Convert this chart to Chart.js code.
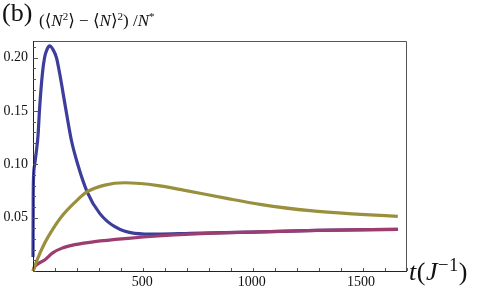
<!DOCTYPE html>
<html>
<head>
<meta charset="utf-8">
<script src="https://cdn.jsdelivr.net/npm/chart.js@4/dist/chart.umd.min.js"></script>
<style>
  html, body { margin: 0; padding: 0; background: #fff; }
  #wrap { position: relative; width: 485px; height: 296px; font-family: "Liberation Serif", "DejaVu Serif", serif; color: #111; }
  #wrap canvas { position: absolute; left: 0; top: 0; }
  .lbl { position: absolute; white-space: nowrap; line-height: 1; }
  .lbl i { font-style: italic; }
  .lbl sup { font-size: 0.65em; vertical-align: 0.5em; line-height: 0; }
  #panel { left: 2px; top: 0px; font-size: 26px; }
  #ytitle { left: 39px; top: 12px; font-size: 17px; }
  #xtitle { left: 409px; top: 259px; font-size: 26px; letter-spacing: 0.5px; }
  #xtitle sup { font-size: 0.72em; }
</style>
</head>
<body>
<div id="wrap">
  <canvas id="chart" width="485" height="296"></canvas>
  <div class="lbl" id="panel">(b)</div>
  <div class="lbl" id="ytitle">(⟨<i>N</i><sup>2</sup>⟩ − ⟨<i>N</i>⟩<sup>2</sup>) /<i>N</i><sup>*</sup></div>
  <div class="lbl" id="xtitle"><i>t</i>(<i>J</i><sup>−1</sup>)</div>
</div>
<script>
// ------------------ DATA ------------------
const blueT = [0, 1, 3, 8, 16, 23, 30, 43, 53, 65, 76, 90, 107, 122, 148, 175, 203, 248, 305, 374, 465, 572, 718, 1000, 1300, 1668];
const blueV = [0.013, 0.07, 0.09, 0.1, 0.113, 0.127, 0.152, 0.185, 0.2, 0.208, 0.211, 0.208, 0.2, 0.185, 0.154, 0.123, 0.101, 0.074, 0.054, 0.0415, 0.0353, 0.0345, 0.0353, 0.0365, 0.038, 0.039];

const oliveT = [0, 20, 53, 90, 130, 190, 248, 328, 419, 490, 572, 688, 886, 1038, 1267, 1496, 1668];
const oliveV = [0, 0.011, 0.026, 0.039, 0.0508, 0.064, 0.0743, 0.0805, 0.0827, 0.082, 0.08, 0.0758, 0.068, 0.0625, 0.0565, 0.0531, 0.0512];

const magentaT = [0, 5, 15, 53, 90, 130, 200, 282, 435, 572, 718, 1000, 1300, 1668];
const magentaV = [0, 0.003, 0.0056, 0.0103, 0.017, 0.0212, 0.025, 0.0275, 0.0306, 0.0328, 0.0345, 0.0365, 0.038, 0.039];

const xTickLabels = [500, 1000, 1500];
const yTickLabels = [0.05, 0.10, 0.15, 0.20];
const X_MAX = 1710;
const Y_MAX = 0.2155;

const toPoints = (ts, vs) => ts.map((t, i) => ({ x: t, y: vs[i] }));

// ------------------ FRAME, INWARD TICKS, X LABELS ------------------
const framePlugin = {
    id: 'frame',
    afterDraw(chart) {
        const { ctx, chartArea: a, scales } = chart;
        ctx.save();
        ctx.lineWidth = 1;
        ctx.strokeStyle = '#555';
        ctx.beginPath();
        ctx.moveTo(a.left, a.top + 0.5);
        ctx.lineTo(a.right - 0.5, a.top + 0.5);
        ctx.lineTo(a.right - 0.5, a.bottom);
        ctx.stroke();
        ctx.strokeStyle = '#222';
        ctx.beginPath();
        ctx.moveTo(a.left + 0.5, a.top);
        ctx.lineTo(a.left + 0.5, a.bottom + 0.5);
        ctx.lineTo(a.right, a.bottom + 0.5);
        ctx.stroke();

        ctx.strokeStyle = '#555';
        scales.x.ticks.forEach(tk => {
            const px = Math.round(scales.x.getPixelForValue(tk.value)) + 0.5;
            const len = xTickLabels.includes(tk.value) ? 5 : 3;
            ctx.beginPath();
            ctx.moveTo(px, a.bottom);
            ctx.lineTo(px, a.bottom - len);
            ctx.stroke();
        });
        scales.y.ticks.forEach(tk => {
            const py = Math.round(scales.y.getPixelForValue(tk.value)) + 0.5;
            const major = yTickLabels.some(v => Math.abs(v - tk.value) < 1e-6);
            const len = major ? 5 : 3;
            ctx.beginPath();
            ctx.moveTo(a.left, py);
            ctx.lineTo(a.left + len, py);
            ctx.stroke();
        });

        // x tick labels, placed with the x scale
        ctx.fillStyle = '#111';
        ctx.font = '14px "Liberation Serif"';
        ctx.textAlign = 'center';
        ctx.textBaseline = 'top';
        xTickLabels.forEach(v => {
            ctx.fillText(String(v), scales.x.getPixelForValue(v), a.bottom + 4);
        });
        ctx.restore();
    }
};

const lineStyle = (color) => ({
    borderColor: color,
    backgroundColor: color,
    borderWidth: 3.2,
    pointRadius: 0,
    fill: false,
    cubicInterpolationMode: 'monotone',
    clip: 6
});

new Chart(document.getElementById('chart'), {
    type: 'line',
    data: {
        datasets: [
            Object.assign({ data: toPoints(oliveT, oliveV) }, lineStyle('#9a8f3d')),
            Object.assign({ data: toPoints(magentaT, magentaV) }, lineStyle('#9b3d6e')),
            Object.assign({ data: toPoints(blueT, blueV) }, lineStyle('#3d3d9c'))
        ]
    },
    options: {
        responsive: false,
        animation: false,
        events: [],
        layout: { padding: { left: 0, right: 78, top: 41, bottom: 0 } },
        plugins: { legend: { display: false }, tooltip: { enabled: false } },
        scales: {
            x: {
                type: 'linear',
                min: 0,
                max: X_MAX,
                afterFit: s => { s.height = 25; },
                border: { display: false },
                grid: { display: false, drawTicks: false },
                ticks: {
                    display: false,
                    stepSize: 100,
                    includeBounds: false,
                    autoSkip: false
                }
            },
            y: {
                type: 'linear',
                min: 0,
                max: Y_MAX,
                afterFit: s => { s.width = 33; },
                border: { display: false },
                grid: { display: false, drawTicks: false },
                ticks: {
                    stepSize: 0.01,
                    includeBounds: false,
                    autoSkip: false,
                    padding: 5,
                    color: '#111',
                    font: { family: 'Liberation Serif', size: 14 },
                    callback: v => {
                        const hit = yTickLabels.find(l => Math.abs(l - v) < 1e-6);
                        return hit !== undefined ? hit.toFixed(2) : '';
                    }
                }
            }
        }
    },
    plugins: [framePlugin]
});
</script>
</body>
</html>
